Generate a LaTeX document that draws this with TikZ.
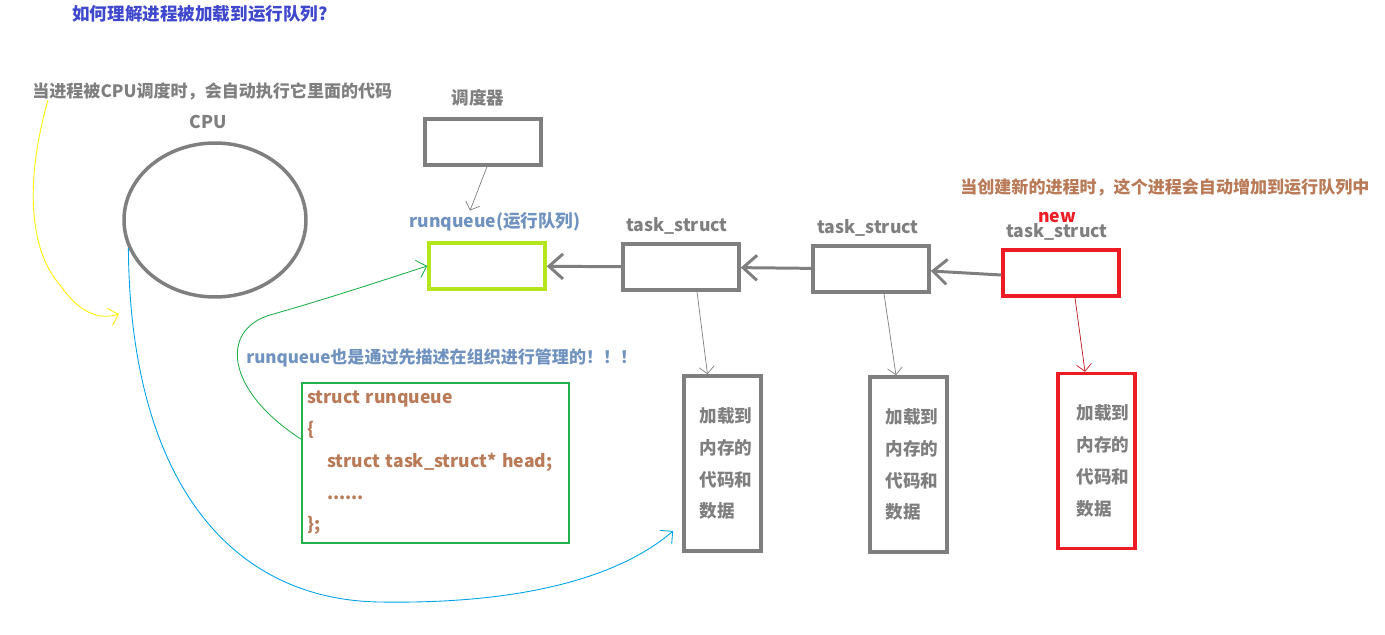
\documentclass[tikz,border=0pt]{standalone}
\usepackage{fontspec}
\setmainfont{Noto Sans CJK SC}
\usetikzlibrary{arrows.meta,shapes.geometric}
\definecolor{pgrey}{HTML}{7F7F7F}
\definecolor{pindigo}{HTML}{3F48CC}
\definecolor{pblue}{HTML}{7092BE}
\definecolor{pbrown}{HTML}{B97A57}
\definecolor{pred}{HTML}{ED1C24}
\definecolor{pgreen}{HTML}{22B14C}
\definecolor{plime}{HTML}{B5E61D}
\definecolor{psky}{HTML}{00A2E8}
\definecolor{pyellow}{HTML}{FFF200}

\begin{document}
\begin{tikzpicture}[x=0.02cm, y=-0.02cm, font=\fontsize{10}{12}\selectfont\bfseries,
  label node/.style={text=pgrey, inner sep=1pt},
  note/.style={font=\fontsize{9.7}{12}\selectfont\bfseries, anchor=west, inner sep=0pt},
  task node/.style={draw=pgrey, line width=2pt, minimum width=2.32cm, minimum height=0.92cm, inner sep=0pt},
  load node/.style={draw=pgrey, line width=2pt, minimum width=1.54cm, minimum height=3.5cm, align=left, text=pgrey, font=\fontsize{10}{18.1}\selectfont\bfseries},
  link/.style={pgrey, line width=1.7pt, -{Straight Barb[length=0.28cm,width=0.5cm]}},
  ptr/.style={pgrey, line width=0.4pt, -{Straight Barb[length=0.14cm,width=0.3cm]}},
  hand/.style={line width=0.5pt, -{Straight Barb[length=0.18cm,width=0.36cm]}}]
\useasboundingbox (0,0) rectangle (1385,635);

% headings
\node[text=pindigo, anchor=west, inner sep=0pt] (title) at (72,14) {如何理解进程被加载到运行队列?};
\node[note, text=pgrey] (hint) at (32,91) {当进程被CPU调度时，会自动执行它里面的代码};
\node[note, text=pbrown] (newhint) at (960,187) {当创建新的进程时，这个进程会自动增加到运行队列中};

% cpu and scheduler
\node[label node] (cpulabel) at (208,122) {CPU};
\node[draw=pgrey, line width=2pt, ellipse, minimum width=3.64cm, minimum height=3.08cm] (cpu) at (215,220) {};
\node[label node] (schedlabel) at (478,98) {调度器};
\node[task node] (sched) at (483,142) {};

% run queue
\node[text=pblue, inner sep=1pt] (rqlabel) at (495,222) {runqueue(运行队列)};
\node[task node, draw=plime] (rq) at (487,266) {};

% task_structs
\node[label node] (t1label) at (677,226) {task\_struct};
\node[task node] (t1) at (681,267) {};
\node[label node] (t2label) at (868,228) {task\_struct};
\node[task node] (t2) at (871,269) {};
\node[text=pred, inner sep=0pt] (newlabel) at (1057,217) {new};
\node[label node] (t3label) at (1057,232) {task\_struct};
\node[task node, draw=pred] (t3) at (1061,273) {};

% code and data
\node[load node] (loadA) at (722.5,463.5) {\hspace*{0.14cm}加载到\\\hspace*{0.14cm}内存的\\\hspace*{0.14cm}代码和\\\hspace*{0.14cm}数据};
\node[load node] (loadB) at (908.5,464.5) {\hspace*{0.14cm}加载到\\\hspace*{0.14cm}内存的\\\hspace*{0.14cm}代码和\\\hspace*{0.14cm}数据};
\node[load node, draw=pred] (loadC) at (1096.5,461) {\hspace*{0.26cm}加载到\\\hspace*{0.26cm}内存的\\\hspace*{0.26cm}代码和\\\hspace*{0.26cm}数据};

% runqueue struct
\node[note, text=pblue] (rqnote) at (246,358) {runqueue也是通过先描述在组织进行管理的！！！};
\node[draw=pgreen, line width=0.8pt, minimum width=5.34cm, minimum height=3.2cm, text width=5.14cm, inner xsep=0.1cm,
  align=left, text=pbrown, font=\fontsize{10}{18.1}\selectfont\bfseries] (code) at (435.5,463)
  {struct runqueue\\\{\\\hspace*{0.4cm}struct task\_struct* head;\\\hspace*{0.4cm}......\\\};};

% links
\draw[link] (t1) -- (rq);
\draw[link] (t2) -- (t1);
\draw[link] ([yshift=-0.04cm]t3.west) -- ([yshift=-0.04cm]t2.east);
\draw[ptr] ([xshift=0.08cm]sched.south) -- ([xshift=-0.5cm]rqlabel.north);
\draw[ptr] ([xshift=0.32cm]t1.south) -- ([xshift=-0.3cm]loadA.north);
\draw[ptr] ([xshift=0.26cm]t2.south) -- ([xshift=-0.25cm]loadB.north);
\draw[ptr, pred!80!black] ([xshift=0.28cm]t3.south) -- ([xshift=-0.23cm]loadC.north);

% hand drawn curves
\coordinate (ytip) at (119,314);
\draw[hand, pyellow] ([xshift=0.32cm]hint.south west) .. controls (28,170) and (25,245) .. (60,285)
  .. controls (80,314) and (100,320) .. (ytip);
\draw[hand, psky, shorten >=0.24cm] (cpu.198) .. controls (130,480) and (230,600) .. (380,602)
  .. controls (500,604) and (610,585) .. (loadA.236);
\draw[hand, pgreen] (code.170) .. controls (225,390) and (220,330) .. (270,315)
  .. controls (330,298) and (390,278) .. (rq.west);
\end{tikzpicture}
\end{document}
